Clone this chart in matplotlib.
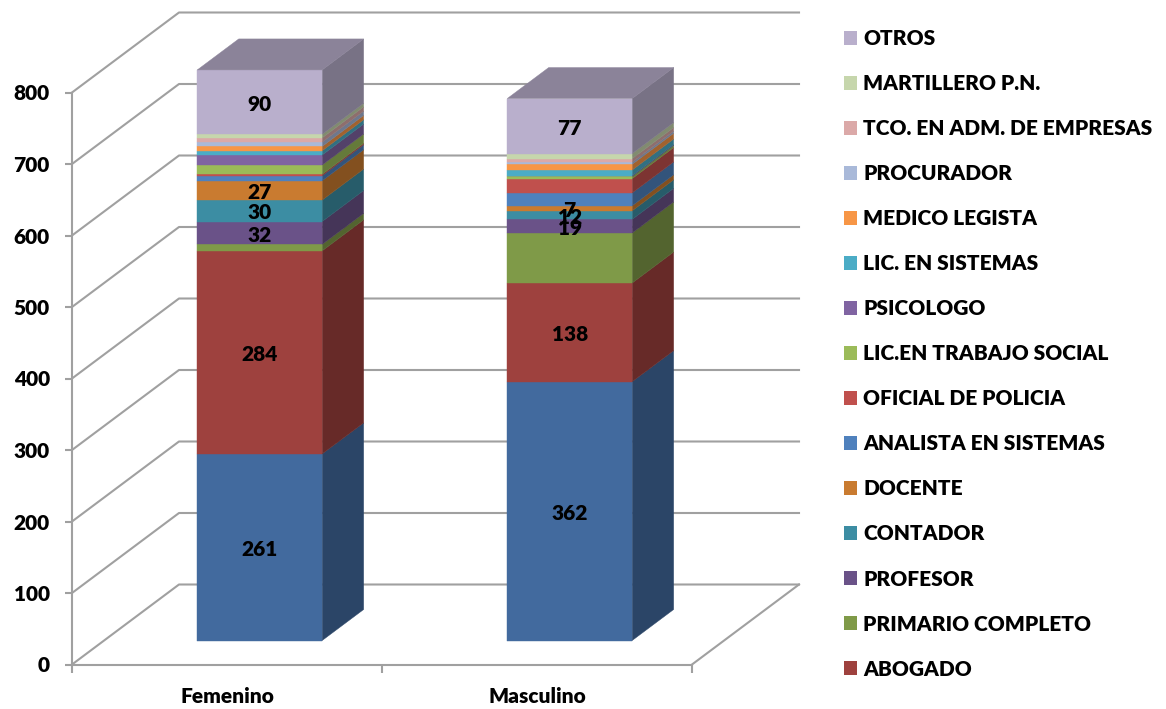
import matplotlib
matplotlib.use("Agg")
import matplotlib.pyplot as plt
from matplotlib.colors import to_rgb
from matplotlib.patches import Patch, Polygon

# =====================================================
# DATA
# =====================================================
categories = ["Femenino", "Masculino"]
series_names = [
    "", "ABOGADO", "PRIMARIO COMPLETO", "PROFESOR", "CONTADOR", "DOCENTE",
    "ANALISTA EN SISTEMAS", "OFICIAL DE POLICIA", "LIC.EN TRABAJO SOCIAL",
    "PSICOLOGO", "LIC. EN SISTEMAS", "MEDICO LEGISTA", "PROCURADOR",
    "TCO. EN ADM. DE EMPRESAS", "MARTILLERO P.N.", "OTROS",
]
femenino = [261, 284, 9, 32, 30, 27, 7, 2, 13, 14, 6, 6, 6, 6, 5, 90]
masculino = [362, 138, 70, 19, 12, 7, 18, 20, 3, 1, 8, 8, 3, 5, 7, 77]
labels_fem = [1, 1, 0, 1, 1, 1, 0, 0, 0, 0, 0, 0, 0, 0, 0, 1]
labels_mas = [1, 1, 0, 1, 1, 1, 0, 0, 0, 0, 0, 0, 0, 0, 0, 1]
colors = [
    "#426A9E", "#9E413E", "#7F9A48", "#6A5288", "#3C8DA3", "#C97B30",
    "#4F81BD", "#C0504D", "#9BBB59", "#8064A2", "#4BACC6", "#F79646",
    "#A9B9D9", "#DBA9A8", "#C6D6AC", "#B9AFCC",
]
yticks = [0, 100, 200, 300, 400, 500, 600, 700, 800]

# =====================================================
# 3D LOOK
# =====================================================
W, H = 1166, 709
LEFT, RIGHT, BOTTOM, TOP = 72, 692, 664.5, 92.5
GRID = "#A0A0A0"
FS = 15

# oblique offset of the back wall, in data units
DX = 107 / ((RIGHT - LEFT) / 2)
DY = 80 / ((BOTTOM - TOP) / 800)
BAR_W = 0.403
BAR_SHIFT = 0.002
D0, D1 = 0.3, 0.6875


def proj(x, v, d):
    return (x + d * DX, v + d * DY)


def darker(c, k):
    return tuple(k * a for a in to_rgb(c))


def face(ax, pts, color, z):
    ax.add_patch(Polygon(pts, closed=True, facecolor=color, edgecolor=color,
                         linewidth=0.3, clip_on=False, zorder=z))


plt.rcParams["font.family"] = ["Lato", "DejaVu Sans"]
plt.rcParams["font.weight"] = "heavy"

fig = plt.figure(figsize=(W / 100, H / 100), dpi=100)
ax = fig.add_axes([LEFT / W, 1 - BOTTOM / H, (RIGHT - LEFT) / W, (BOTTOM - TOP) / H])
ax.set_xlim(-0.5, 1.5)
ax.set_ylim(0, 800)

# =====================================================
# WALLS
# =====================================================
for v in yticks:
    xs = [proj(-0.5, v, 0)[0], proj(-0.5, v, 1)[0], proj(1.5, v, 1)[0]]
    ys = [proj(-0.5, v, 0)[1], proj(-0.5, v, 1)[1], proj(1.5, v, 1)[1]]
    ax.plot(xs, ys, color=GRID, lw=1.5, clip_on=False, zorder=1)
ax.plot([1.5, proj(1.5, 0, 1)[0]], [0, proj(1.5, 0, 1)[1]], color=GRID, lw=1.5,
        clip_on=False, zorder=1)

# =====================================================
# BARS
# =====================================================
for i, (vals, shown) in enumerate(zip([femenino, masculino], [labels_fem, labels_mas])):
    x0 = i + BAR_SHIFT - BAR_W / 2
    x1 = i + BAR_SHIFT + BAR_W / 2
    base = 0
    for j, v in enumerate(vals):
        top = base + v
        col = colors[j]
        side = darker(col, 0.65)
        face(ax, [proj(x1, base, D0), proj(x1, base, D1), proj(x1, top, D1), proj(x1, top, D0)],
             side, 3)
        face(ax, [proj(x0, base, D0), proj(x1, base, D0), proj(x1, top, D0), proj(x0, top, D0)],
             col, 4)
        if shown[j]:
            ax.annotate(str(v), proj(i + BAR_SHIFT, base + v / 2, D0), xytext=(0, -1.5),
                        textcoords="offset points", ha="center", va="center", fontsize=FS,
                        color="black", zorder=6)
        base = top
    face(ax, [proj(x0, base, D0), proj(x1, base, D0), proj(x1, base, D1), proj(x0, base, D1)],
         darker(colors[-1], 0.75), 4)

# =====================================================
# AXES
# =====================================================
for s in ["top", "right"]:
    ax.spines[s].set_visible(False)
for s in ["left", "bottom"]:
    ax.spines[s].set_color(GRID)
    ax.spines[s].set_linewidth(1.5)
ax.patch.set_visible(False)
ax.set_yticks(yticks)
ax.set_xticks([0, 1])
ax.set_xticklabels(categories)
ax.set_xticks([-0.5, 0.5, 1.5], minor=True)
ax.tick_params(axis="y", labelsize=FS, color=GRID, width=1.5, length=5, pad=11)
ax.tick_params(axis="x", which="major", labelsize=FS, length=0, pad=16)
ax.tick_params(axis="x", which="minor", color=GRID, width=1.5, length=6)

# =====================================================
# LEGEND
# =====================================================
handles = [Patch(facecolor=colors[j], label=series_names[j])
           for j in range(len(colors) - 1, 0, -1)]
fig.legend(handles=handles, loc="upper left", bbox_to_anchor=(843.5 / W, 1 - 29 / H),
           frameon=False, fontsize=FS, borderpad=0, borderaxespad=0, handlelength=0.67,
           handleheight=0.67, handletextpad=0.28, labelspacing=1.25)

fig.savefig("out.png", dpi=100)
